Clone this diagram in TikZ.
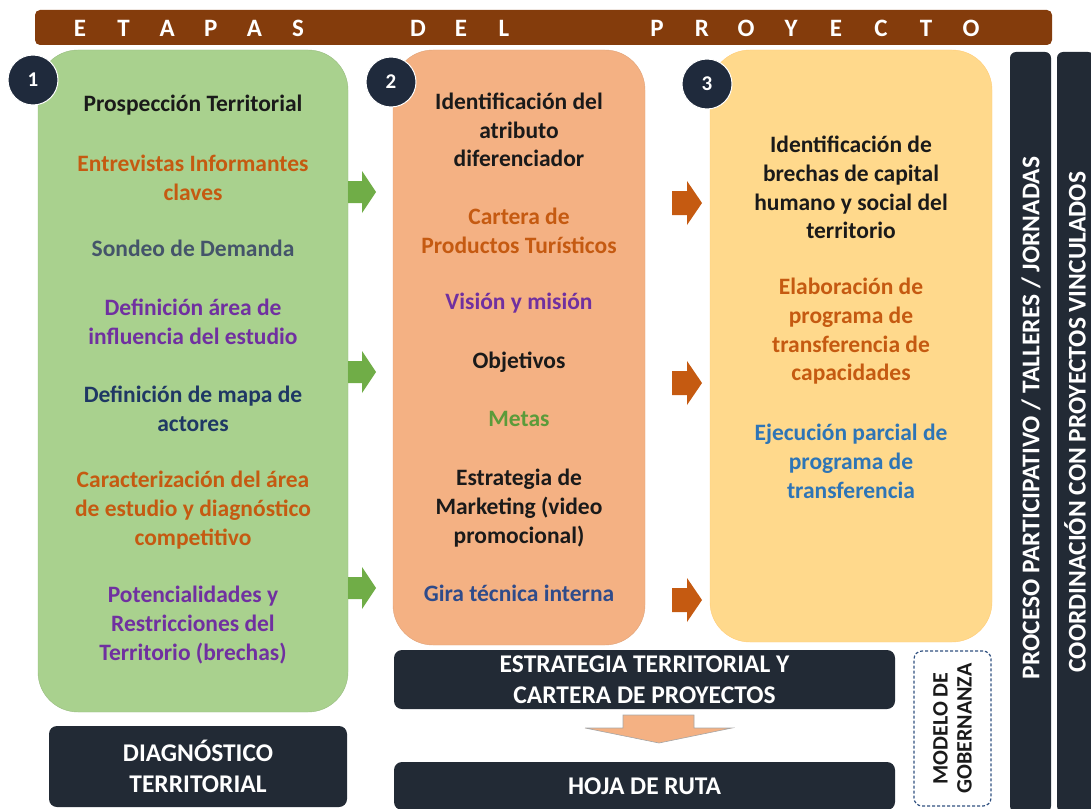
\documentclass[tikz,border=0pt]{standalone}
\usepackage{fontspec}
\setmainfont{Carlito}
\usetikzlibrary{positioning}

\definecolor{barbrown}{HTML}{843C0C}
\definecolor{navy}{HTML}{1F2A3C}
\definecolor{darkbg}{HTML}{222A35}
\definecolor{stgreen}{HTML}{A9D18E}
\definecolor{stsalmon}{HTML}{F4B183}
\definecolor{styellow}{HTML}{FFD98C}
\definecolor{arrgreen}{HTML}{70AD47}
\definecolor{arrorange}{HTML}{C55A11}
\definecolor{txtblack}{HTML}{1A1A1A}
\definecolor{txtorange}{HTML}{C55A11}
\definecolor{txtslate}{HTML}{44546A}
\definecolor{txtpurple}{HTML}{7030A0}
\definecolor{txtnavy}{HTML}{1F3864}
\definecolor{txtgreen}{HTML}{5B9B3A}
\definecolor{txtgira}{HTML}{2F4B8A}
\definecolor{txtblue}{HTML}{2E75B6}
\definecolor{dashblue}{HTML}{2F5080}

\begin{document}
\begin{tikzpicture}[x=1pt,y=-1pt,
	stage/.style={rounded corners=40pt,inner sep=0pt},
	badge/.style={circle,fill=navy,draw=white,line width=1pt,minimum size=50pt,inner sep=0pt,
		text=white,font=\bfseries\fontsize{21}{24}\selectfont},
	item/.style={align=center,font=\bfseries\fontsize{23.5}{28.7}\selectfont},
	darkbox/.style={fill=darkbg,rounded corners=8pt,text=white,align=center,
		font=\bfseries\fontsize{25.5}{31}\selectfont},
	letter/.style={text=white,font=\bfseries\fontsize{25}{27}\selectfont},
	sidetext/.style={rotate=90,text=white,font=\bfseries\fontsize{25.5}{28}\selectfont}]
\useasboundingbox (0,0) rectangle (1091,808);

% title bar
\node[fill=barbrown,rounded corners=5pt,minimum width=1017pt,minimum height=35pt] (title) at (543.5,27.5) {};
\foreach \x/\l [count=\i] in {80/E,123.6/T,167.2/A,210.8/P,254.4/A,298/S,418/D,461/E,504/L,
	657/P,702/R,746/O,791/Y,836/E,881/C,926/T,971/O}
	\node[letter] (t\i) at (\x,28) {\l};

% stages
\node[stage,fill=stgreen,draw=stgreen!90!black,minimum width=310pt,minimum height=662pt] (s1) at (193,381) {};
\node[stage,fill=stsalmon,draw=stsalmon!92!black,minimum width=252pt,minimum height=595pt] (s2) at (519,347.5) {};
\node[stage,fill=styellow,draw=styellow!85!orange,minimum width=282pt,minimum height=592pt] (s3) at (851,346) {};

\node[badge] (b1) at (33,80) {1};
\node[badge] (b2) at (391,82) {2};
\node[badge] (b3) at (707,84) {3};

% stage 1
\node[item,text=txtblack] (i11) at (193,105) {Prospección Territorial};
\node[item,text=txtorange] (i12) at (193,178) {Entrevistas Informantes\\claves};
\node[item,text=txtslate] (i13) at (193,248) {Sondeo de Demanda};
\node[item,text=txtpurple] (i14) at (193,322) {Definición área de\\influencia del estudio};
\node[item,text=txtnavy] (i15) at (193,409) {Definición de mapa de\\actores};
\node[item,text=txtorange] (i16) at (193,510) {Caracterización del área\\de estudio y diagnóstico\\competitivo};
\node[item,text=txtpurple] (i17) at (193,625) {Potencialidades y\\Restricciones del\\Territorio (brechas)};

% stage 2
\node[item,text=txtblack] (i21) at (519,130) {Identificación del\\atributo\\diferenciador};
\node[item,text=txtorange] (i22) at (519,231) {Cartera de\\Productos Turísticos};
\node[item,text=txtpurple] (i23) at (519,303) {Visión y misión};
\node[item,text=txtblack] (i24) at (519,362) {Objetivos};
\node[item,text=txtgreen] (i25) at (519,419) {Metas};
\node[item,text=txtblack] (i26) at (519,508) {Estrategia de\\Marketing (video\\promocional)};
\node[item,text=txtgira] (i27) at (519,593) {Gira técnica interna};

% stage 3
\node[item,text=txtblack] (i31) at (851,187.5) {Identificación de\\brechas de capital\\humano y social del\\territorio};
\node[item,text=txtorange] (i32) at (851,331.5) {Elaboración de\\programa de\\transferencia de\\capacidades};
\node[item,text=txtblue] (i33) at (851,461.5) {Ejecución parcial de\\programa de\\transferencia};

% arrows between stages
\foreach \y in {192,372,588}
	\fill[arrgreen,shift={(362,\y)}] (-14,-11) -- (0,-11) -- (0,-21) -- (14,0) -- (0,21) -- (0,11) -- (-14,11) -- cycle;
\foreach \y in {203,383,600}
	\fill[arrorange,shift={(687,\y)}] (-15,-12) -- (0,-12) -- (0,-22) -- (15,0) -- (0,22) -- (0,12) -- (-15,12) -- cycle;

% results
\node[darkbox,minimum width=298pt,minimum height=81pt] (diag) at (198,766.5) {DIAGNÓSTICO\\TERRITORIAL};
\node[darkbox,minimum width=501pt,minimum height=59pt] (estr) at (644.5,679.5) {ESTRATEGIA TERRITORIAL Y\\CARTERA DE PROYECTOS};
\node[darkbox,minimum width=501pt,minimum height=48pt] (hoja) at (644.5,786) {HOJA DE RUTA};
\filldraw[fill=stsalmon,draw=gray!70,line width=0.6pt] (623,715) -- (694,715) -- (694,728) -- (732,728)
	-- (659,743) -- (585,728) -- (623,728) -- cycle;

\node[draw=dashblue,dash pattern=on 3pt off 2pt,line width=1.2pt,rounded corners=8pt,minimum width=77pt,minimum height=155pt] (gob) at (952.5,728.5) {};
\node[rotate=90,align=center,text=txtblack,font=\bfseries\fontsize{22}{24}\selectfont] (gobt) at (gob.center) {MODELO DE\\GOBERNANZA};

% side bars
\node[fill=darkbg,rounded corners=6pt,minimum width=41pt,minimum height=760pt] (p1) at (1030.5,432) {};
\node[fill=darkbg,rounded corners=6pt,minimum width=37pt,minimum height=760pt] (p2) at (1075.5,432) {};
\node[sidetext] (p1t) at (1031,418) {PROCESO PARTICIPATIVO / TALLERES / JORNADAS};
\node[sidetext] (p2t) at (1075,422) {COORDINACIÓN CON PROYECTOS VINCULADOS};
\end{tikzpicture}
\end{document}
